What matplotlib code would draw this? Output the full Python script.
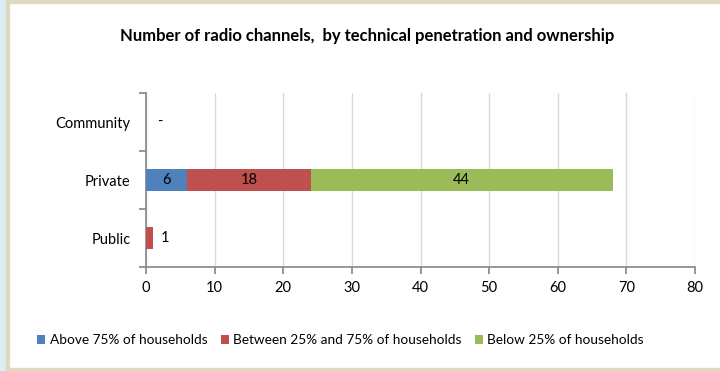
"""Radio channels by technical penetration and ownership, stacked horizontal bars."""

import matplotlib
matplotlib.use("Agg")
import matplotlib.pyplot as plt
from matplotlib.patches import Rectangle

plt.rcParams["font.family"] = ["Lato", "DejaVu Sans"]

# data
owners = ["Public", "Private", "Community"]
above_75 = [0, 6, 0]
between_25_75 = [1, 18, 0]
below_25 = [0, 44, 0]
series_names = ["Above 75% of households", "Between 25% and 75% of households",
                "Below 25% of households"]
x_ticks = [0, 10, 20, 30, 40, 50, 60, 70, 80]

colors = ["#4F81BD", "#C0504D", "#9BBB59"]
axis_grey = "#868686"

fig = plt.figure(figsize=(7.2, 3.71), dpi=100)
ax = fig.add_axes([0.2028, 0.2803, 0.7625, 0.469])

ypos = list(range(len(owners)))
left = [0] * len(owners)
for vals, col, name in zip([above_75, between_25_75, below_25], colors, series_names):
    ax.barh(ypos, vals, left=left, height=0.39, color=col, label=name, zorder=3)
    for y, v, l in zip(ypos, vals, left):
        # label inside the segment only where it is wide enough
        if v >= 5:
            ax.text(l + v / 2, y, str(v), ha="center", va="center", fontsize=10.5, zorder=4)
    left = [a + b for a, b in zip(left, vals)]

# small or empty totals get their label outside the bar
totals = left
for y, t in zip(ypos, totals):
    if t == 0:
        ax.annotate("-", (t, y), xytext=(10, 0), textcoords="offset points",
                    ha="center", va="center", fontsize=10.5)
    elif t < 5:
        ax.annotate(str(t), (t, y), xytext=(9, 0), textcoords="offset points",
                    ha="center", va="center", fontsize=10.5)

ax.set_xlim(0, 80)
ax.set_ylim(-0.5, len(owners) - 0.5)
ax.set_xticks(x_ticks)
ax.set_xticklabels([str(t) for t in x_ticks], fontsize=10.5)
ax.xaxis.grid(True, color="#D9D9D9", linewidth=1, zorder=0)

ax.set_yticks([i - 0.5 for i in range(len(owners) + 1)])
ax.set_yticklabels([])
ax.set_yticks(ypos, minor=True)
ax.set_yticklabels(owners, minor=True, fontsize=10.5)
ax.tick_params(axis="y", which="minor", length=0, pad=11)
ax.tick_params(axis="y", which="major", length=5, color=axis_grey, width=1.2)
ax.tick_params(axis="x", length=5, color=axis_grey, width=1.2, pad=5)

for s in ["top", "right"]:
    ax.spines[s].set_visible(False)
for s in ["left", "bottom"]:
    ax.spines[s].set_color(axis_grey)
    ax.spines[s].set_linewidth(1.2)

fig.text(0.51, 0.903, "Number of radio channels,  by technical penetration and ownership",
         ha="center", va="center", fontsize=12, fontweight="bold")

fig.legend(loc="center", bbox_to_anchor=(0.473, 0.083), ncol=3, frameon=False,
           fontsize=9.8, handlelength=0.6, handleheight=0.6, handletextpad=0.3,
           columnspacing=1.0)

# frame strips around the chart area
fig.patches.append(Rectangle((0, 0), 0.009, 1, transform=fig.transFigure,
                             color="#DAEEF3", zorder=0))
fig.patches.append(Rectangle((0.009, 0), 0.003, 1, transform=fig.transFigure,
                             color="#DDD9C3", zorder=0))
fig.patches.append(Rectangle((0.009, 0.992), 0.991, 0.008, transform=fig.transFigure,
                             color="#DDD9C3", zorder=0))
fig.patches.append(Rectangle((0.009, 0.0), 0.991, 0.008, transform=fig.transFigure,
                             color="#DDD9C3", zorder=0))

fig.savefig("out.png", dpi=100)
